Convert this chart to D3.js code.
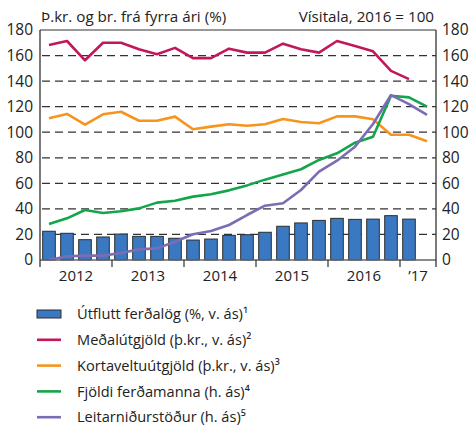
<!DOCTYPE html>
<html>
<head>
<meta charset="utf-8">
<script src="https://cdn.jsdelivr.net/npm/d3@7"></script>
<style>
  body { margin: 0; background: #fff; }
  svg text { font-family: "Open Sans", sans-serif; fill: #222; }
</style>
</head>
<body>
<div id="chart"></div>
<script>
// quarters 2012Q1 .. 2017Q2
const quarters = d3.range(22).map(i => `${2012 + Math.floor(i / 4)}Q${i % 4 + 1}`)
const yearLabels = ['2012', '2013', '2014', '2015', '2016', '\u201917']
const yTicks = [0, 20, 40, 60, 80, 100, 120, 140, 160, 180]

const utflutt = [22.5, 20.9, 15.9, 18, 20.3, 18.5, 18.5, 17, 15.6, 16.4, 19.3, 19.8, 21.7, 26.4, 29, 31, 32.6, 31.8, 32, 34.7, 32]
const medalutgjold = [168.3, 171.4, 156.3, 170, 170, 165, 161, 166, 158, 158, 165.4, 162.3, 162.3, 169.3, 165, 162.3, 171.4, 167.5, 163.3, 148, 141.6]
const kortavelta = [110.9, 114.3, 105.9, 114, 116, 109, 109, 112.2, 102.3, 104.4, 106.2, 105.1, 106.2, 110.3, 108, 107, 112.4, 112.4, 110.1, 98, 98, 92.9]
const fjoldi = [28.2, 32.6, 39.1, 36.8, 38.1, 40.4, 44.9, 46.4, 49.6, 51.4, 54.5, 58.4, 62.9, 67, 71, 78.3, 83.5, 91.8, 96.5, 128.6, 127.3, 120]
const leitar = [0, 2.9, 3.4, 3.4, 5.5, 8.3, 9.1, 14.3, 20.1, 22.7, 27.4, 35.2, 42.5, 44.4, 54.8, 69.1, 77.7, 88.7, 106.4, 129.1, 122, 113.5]

const legendItems = [
  { label: '\u00DAtflutt fer\u00F0al\u00F6g (%, v. \u00E1s)\u00B9', color: '#3a78c2', type: 'bar' },
  { label: 'Me\u00F0al\u00FAtgj\u00F6ld (\u00FE.kr., v. \u00E1s)\u00B2', color: '#c2185b', type: 'line' },
  { label: 'Kortaveltu\u00FAtgj\u00F6ld (\u00FE.kr., v. \u00E1s)\u00B3', color: '#f7941d', type: 'line' },
  { label: 'Fj\u00F6ldi fer\u00F0amanna (h. \u00E1s)\u2074', color: '#12a54a', type: 'line' },
  { label: 'Leitarni\u00F0urst\u00F6\u00F0ur (h. \u00E1s)\u2075', color: '#7b6cb5', type: 'line' }
]

const width = 471
const height = 432
const plotLeft = 40
const plotRight = 436
const plotTop = 30
const plotBottom = 260

const svg = d3.select('#chart')
  .append('svg')
  .attr('width', width)
  .attr('height', height)

const x = d3.scaleBand()
  .domain(quarters)
  .range([plotLeft, plotRight])
  .paddingInner(0.3)
  .paddingOuter(0.15)

const xc = q => x(q) + x.bandwidth() / 2
// left edge of the slot a quarter sits in
const slot = q => x(q) - x.step() * x.paddingInner() / 2

const y = d3.scaleLinear()
  .domain([0, 180])
  .range([plotBottom, plotTop])

// gridlines
svg.append('g')
  .selectAll('line')
  .data(yTicks.filter(t => t > 0 && t < 180))
  .enter()
  .append('line')
  .attr('x1', plotLeft + 2)
  .attr('x2', plotRight)
  .attr('y1', d => y(d))
  .attr('y2', d => y(d))
  .style('stroke', '#333')
  .style('stroke-width', 1.3)
  .style('stroke-dasharray', '8,5')

// bars
svg.append('g')
  .selectAll('rect')
  .data(utflutt)
  .enter()
  .append('rect')
  .attr('x', (d, i) => x(quarters[i]))
  .attr('width', x.bandwidth())
  .attr('y', d => y(d))
  .attr('height', d => y(0) - y(d))
  .attr('fill', '#3a78c2')
  .style('stroke', '#2d2d2d')
  .style('stroke-width', 1)

// lines
const line = d3.line()
  .x((d, i) => xc(quarters[i]))
  .y(d => y(d))

const series = [
  [medalutgjold, '#c2185b'],
  [kortavelta, '#f7941d'],
  [fjoldi, '#12a54a'],
  [leitar, '#7b6cb5']
]
series.forEach(([data, color]) => {
  svg.append('path')
    .datum(data)
    .attr('d', line)
    .attr('fill', 'none')
    .attr('stroke', color)
    .attr('stroke-width', 2.6)
    .attr('stroke-linejoin', 'round')
})

// frame top
svg.append('line')
  .attr('x1', plotLeft).attr('x2', plotRight).attr('y1', plotTop).attr('y2', plotTop)
  .style('stroke', '#333').style('stroke-width', 1.2)

// x axis
const xg = svg.append('g')
  .attr('transform', `translate(0,${plotBottom})`)

xg.append('path')
  .attr('d', `M${plotLeft},0H${plotRight}`)
  .style('stroke', '#666').style('stroke-width', 1.5)

xg.selectAll('.yt')
  .data(quarters.filter((q, i) => i % 4 === 0).slice(1))
  .enter()
  .append('line')
  .attr('x1', d => slot(d))
  .attr('x2', d => slot(d))
  .attr('y1', 0)
  .attr('y2', 7)
  .style('stroke', '#333')
  .style('stroke-width', 1.2)

xg.selectAll('.yl')
  .data(yearLabels)
  .enter()
  .append('text')
  .attr('x', (d, i) => {
    const qs = quarters.slice(i * 4, i * 4 + 4)
    return (slot(qs[0]) + slot(qs[qs.length - 1]) + x.step()) / 2
  })
  .attr('y', 21)
  .attr('text-anchor', 'middle')
  .style('font-size', '15px')
  .text(d => d)

// y axes
const yLeft = d3.axisLeft(y).tickValues(yTicks).tickSize(0).tickPadding(7)
const yRight = d3.axisRight(y).tickValues(yTicks).tickSize(0).tickPadding(6)

const gl = svg.append('g').attr('transform', `translate(${plotLeft},0)`).call(yLeft)
const gr = svg.append('g').attr('transform', `translate(${plotRight},0)`).call(yRight)
;[gl, gr].forEach(g => {
  g.select('.domain').attr('d', `M0,${plotTop}V${plotBottom + 7}`).style('stroke', '#333').style('stroke-width', 1.3)
  g.selectAll('.tick text').style('font-size', '15.5px').style('font-family', '"Open Sans", sans-serif').style('fill', '#222')
})

// titles
svg.append('text')
  .attr('x', plotLeft + 1)
  .attr('y', 22)
  .style('font-size', '15.2px')
  .text('\u00DE.kr. og br. fr\u00E1 fyrra \u00E1ri (%)')

svg.append('text')
  .attr('x', plotRight - 2)
  .attr('y', 22)
  .attr('text-anchor', 'end')
  .style('font-size', '15.2px')
  .text('V\u00EDsitala, 2016 = 100')

// legend
const legend = svg.append('g')
  .selectAll('g')
  .data(legendItems)
  .enter()
  .append('g')
  .attr('transform', (d, i) => `translate(37,${314 + i * 25.8})`)

legend.filter(d => d.type === 'bar')
  .append('rect')
  .attr('x', 0).attr('y', -4).attr('width', 24).attr('height', 8)
  .attr('fill', d => d.color)
  .style('stroke', '#2d2d2d').style('stroke-width', 1)

legend.filter(d => d.type === 'line')
  .append('line')
  .attr('x1', 0).attr('x2', 24).attr('y1', 0).attr('y2', 0)
  .style('stroke', d => d.color)
  .style('stroke-width', 2.6)

legend.append('text')
  .attr('x', 40)
  .attr('dy', '0.36em')
  .style('font-size', '14.6px')
  .text(d => d.label)
</script>
</body>
</html>
